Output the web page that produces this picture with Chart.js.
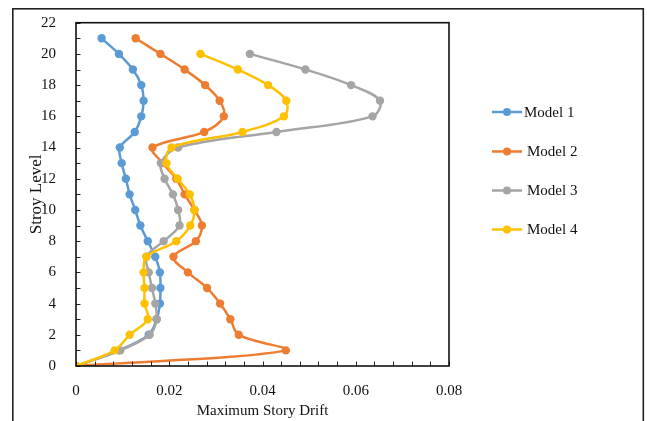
<!DOCTYPE html>
<html>
<head>
<meta charset="utf-8">
<script src="https://cdn.jsdelivr.net/npm/chart.js@4/dist/chart.umd.min.js"></script>
<style>
html,body{margin:0;padding:0;background:#fff;}
#wrap{width:647px;height:421px;position:relative;}
</style>
</head>
<body>
<div id="wrap"><canvas id="c" width="647" height="421"></canvas></div>
<script>
// ---- data ----
const seriesNames = ["Model 1", "Model 2", "Model 3", "Model 4"];
const levelsA = [0,1,2,3,4,5,6,7,8,9,10,11,12,13,14,15,16,17,18,19,20,21];
const levelsB = [0,1,2,3,4,5,6,7,8,9,10,11,12,13,14,15,16,17,18,19,20];
const model1 = [0, 0.0092, 0.0156, 0.0173, 0.0180, 0.0181, 0.0180, 0.0170, 0.0154, 0.0138, 0.0127, 0.0115, 0.0107, 0.0098, 0.0094, 0.0126, 0.0140, 0.0145, 0.0140, 0.0122, 0.0092, 0.0055];
const model2 = [0, 0.0450, 0.0349, 0.0331, 0.0309, 0.0281, 0.0240, 0.0209, 0.0257, 0.0270, 0.0254, 0.0233, 0.0215, 0.0186, 0.0164, 0.0275, 0.0317, 0.0308, 0.0277, 0.0233, 0.0181, 0.0128];
const model3 = [0, 0.0095, 0.0158, 0.0173, 0.0170, 0.0163, 0.0156, 0.0151, 0.0188, 0.0222, 0.0219, 0.0208, 0.0190, 0.0182, 0.0219, 0.0430, 0.0636, 0.0652, 0.0590, 0.0492, 0.0373];
const model4 = [0, 0.0083, 0.0115, 0.0154, 0.0147, 0.0147, 0.0145, 0.0151, 0.0215, 0.0245, 0.0254, 0.0244, 0.0218, 0.0194, 0.0205, 0.0357, 0.0446, 0.0451, 0.0412, 0.0347, 0.0267];
const xTitle = "Maximum Story Drift";
const yTitle = "Stroy Level";
const colors = ["#5B9BD5", "#ED7D31", "#A5A5A5", "#FFC000"];

const FONT = "'Liberation Serif', 'Times New Roman', serif";

function pts(xs, ys){ return xs.map((v,i)=>({x:v, y:ys[i]})); }

const allSeries = [[model1, levelsA],[model2, levelsA],[model3, levelsB],[model4, levelsB]];

const datasets = allSeries.map((s,i)=>({
  label: seriesNames[i],
  data: pts(s[0], s[1]),
  showLine: true,
  borderColor: colors[i],
  backgroundColor: colors[i],
  borderWidth: 2.5,
  pointRadius: 4.2,
  pointBorderWidth: 0,
  pointHoverRadius: 4.2,
  tension: 0.35,
  order: 4 - i
}));

const decor = {
  id: 'decor',
  afterDatasetsDraw(chart){
    const ctx = chart.ctx, a = chart.chartArea;
    const xs = chart.scales.x, ys = chart.scales.y;
    ctx.save();
    // inner tick marks
    ctx.strokeStyle = '#222';
    ctx.lineWidth = 1;
    ys.ticks.forEach(t=>{
      const p = Math.round(ys.getPixelForValue(t.value)) + 0.5;
      ctx.beginPath(); ctx.moveTo(a.left, p); ctx.lineTo(a.left + 4.5, p); ctx.stroke();
    });
    xs.ticks.forEach(t=>{
      const p = Math.round(xs.getPixelForValue(t.value)) + 0.5;
      ctx.beginPath(); ctx.moveTo(p, a.bottom); ctx.lineTo(p, a.bottom - 4.5); ctx.stroke();
    });
    // plot box
    ctx.strokeStyle = '#111';
    ctx.lineWidth = 1.6;
    ctx.strokeRect(a.left, a.top, a.right - a.left, a.bottom - a.top);
    // outer frame
    ctx.strokeStyle = '#222';
    ctx.lineWidth = 1.6;
    ctx.strokeRect(12.8, 8.8, 630.5, 440);
    // legend
    const ly = [112, 151.5, 190.5, 229.5];
    ctx.font = "15px " + FONT;
    ctx.textBaseline = 'middle';
    chart.data.datasets.forEach((d,i)=>{
      const y = ly[i];
      ctx.strokeStyle = d.borderColor;
      ctx.lineWidth = 2.5;
      ctx.beginPath(); ctx.moveTo(492, y); ctx.lineTo(522, y); ctx.stroke();
      ctx.fillStyle = d.borderColor;
      ctx.beginPath(); ctx.arc(507, y, 4, 0, Math.PI*2); ctx.fill();
      ctx.fillStyle = '#111';
      ctx.fillText(d.label, i === 0 ? 524 : 527, y + 1);
    });
    ctx.restore();
  }
};

new Chart(document.getElementById('c'), {
  type: 'scatter',
  data: { datasets },
  plugins: [decor],
  options: {
    responsive: false,
    animation: false,
    devicePixelRatio: 1,
    layout: { padding: { top: 22.7, right: 198, left: 0, bottom: 0 } },
    plugins: { legend: { display: false }, tooltip: { enabled: false } },
    scales: {
      x: {
        type: 'linear', min: 0, max: 0.08,
        afterFit(s){ s.height = 55; },
        grid: { display: false },
        border: { display: false },
        ticks: {
          stepSize: 0.004, autoSkip: false, maxRotation: 0, padding: 8,
          color: '#111', font: { family: FONT, size: 15 },
          callback(v){ const k = Math.round(v/0.004); if (k % 5 !== 0) return ''; return k === 0 ? '0' : (k*0.004).toFixed(2); }
        },
        title: { display: true, text: xTitle, color: '#111', font: { family: FONT, size: 15 }, padding: { top: 0, bottom: 1 } }
      },
      y: {
        type: 'linear', min: 0, max: 22,
        afterFit(s){ s.width = 76; },
        grid: { display: false },
        border: { display: false },
        ticks: {
          stepSize: 1, autoSkip: false, padding: 12,
          color: '#111', font: { family: FONT, size: 15 },
          callback(v){ return (Math.round(v) % 2 === 0) ? String(Math.round(v)) : ''; }
        },
        title: { display: true, text: yTitle, color: '#111', font: { family: FONT, size: 17 }, padding: { top: 26, bottom: 0 } }
      }
    }
  }
});
</script>
</body>
</html>
